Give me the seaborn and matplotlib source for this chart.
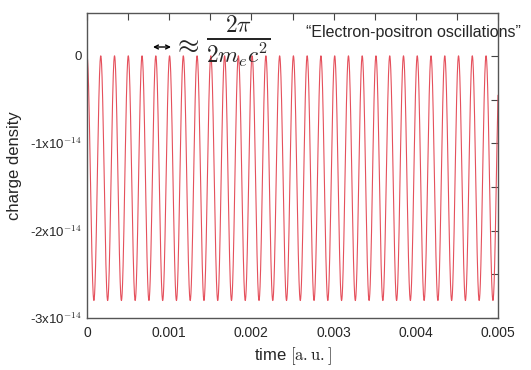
import numpy as np
import matplotlib
matplotlib.use("Agg")
import matplotlib.pyplot as plt
import seaborn as sns

# values
period = 1.674e-4          # oscillation period [a.u.]
depth = -2.80e-14          # minimum charge density
t_end = 0.005
x_ticks = [0, 0.001, 0.002, 0.003, 0.004, 0.005]
x_labels = ["0", "0.001", "0.002", "0.003", "0.004", "0.005"]
y_ticks = [0, -1e-14, -2e-14, -3e-14]
y_labels = ["0", r"-1x10$^{\mathsf{-14}}$", r"-2x10$^{\mathsf{-14}}$", r"-3x10$^{\mathsf{-14}}$"]

t = np.linspace(0, t_end, 6000)
rho = depth / 2 * (1 - np.cos(2 * np.pi * t / period))

sns.set_theme(style="white")
plt.rcParams['font.family'] = ['Liberation Sans', 'DejaVu Sans']
plt.rcParams['mathtext.fontset'] = 'cm'

fig = plt.figure(figsize=(5.31, 3.70), dpi=100)
ax = fig.add_axes([87 / 531, 1 - 318 / 370, 411 / 531, 305 / 370])
sns.lineplot(x=t, y=rho, ax=ax, color="#e5505c", linewidth=0.8)

ax.set_xlim(0, t_end)
ax.set_ylim(-3e-14, 0.49e-14)
ax.set_xticks(x_ticks)
ax.set_xticklabels(x_labels, fontsize=10)
ax.set_yticks(y_ticks)
ax.set_yticklabels(y_labels, fontsize=9.5)
ax.set_xticks(np.arange(0.0005, t_end, 0.001), minor=True)
ax.set_yticks([-0.5e-14, -1.5e-14, -2.5e-14], minor=True)
ax.tick_params(which="both", direction="in", top=True, right=True,
               color="#444444", width=0.8)
ax.tick_params(which="major", length=5)
ax.tick_params(axis="x", which="major", pad=6)
ax.tick_params(axis="y", which="major", pad=4)
ax.tick_params(which="minor", length=5)
for s in ax.spines.values():
    s.set_color("#555555")
    s.set_linewidth(1.0)

ax.set_xlabel(r"time $[\mathrm{a{.}u{.}}]$", fontsize=12)
ax.xaxis.set_label_coords(0.5, -27 / 305)
ax.set_ylabel("charge density", fontsize=12)
ax.yaxis.set_label_coords(-65 / 411, 0.5)

ax.annotate("", xy=(153 / 531, 1 - 47 / 370), xytext=(171 / 531, 1 - 47 / 370),
            xycoords="figure fraction", textcoords="figure fraction",
            arrowprops=dict(arrowstyle="<->", color="black", lw=1.0,
                            shrinkA=0, shrinkB=0, mutation_scale=7))
fig.text(186 / 531, 1 - 45 / 370, r"$\approx$", fontsize=20, ha="center", va="center")
fig.text(238 / 531, 1 - 42 / 370, r"$\frac{2\pi}{2m_e c^2}$", fontsize=24,
         ha="center", va="center")
fig.text(413 / 531, 1 - 32 / 370, "\u201cElectron-positron oscillations\u201d",
         fontsize=11.5, ha="center", va="center")

fig.savefig("out.png", dpi=100)
